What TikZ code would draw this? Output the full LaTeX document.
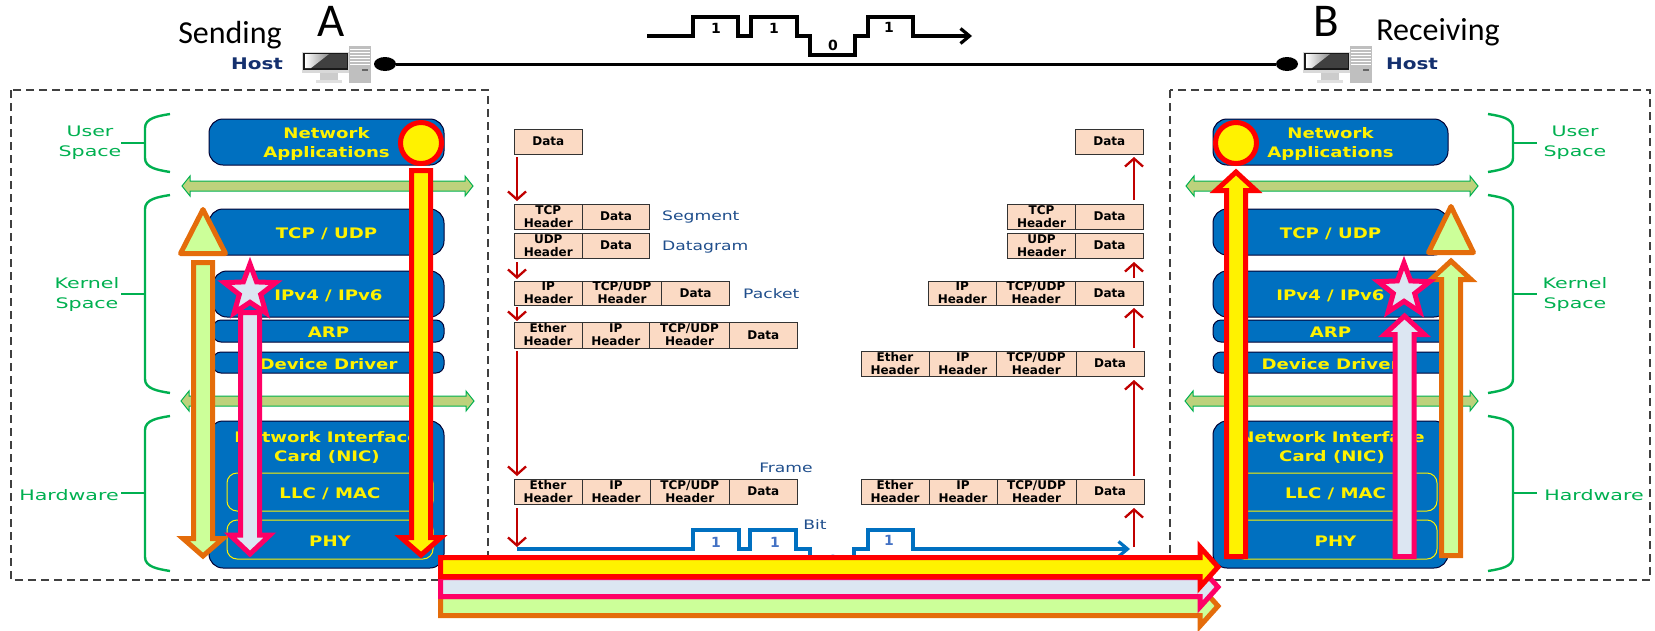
\documentclass[tikz,border=0pt]{standalone}
\usepackage{fontspec}
\usetikzlibrary{arrows.meta,shapes.geometric}
\setmainfont{DejaVu Sans}
\newfontfamily\widebf[FakeStretch=1.25]{DejaVu Sans}
\newfontfamily\widerg[FakeStretch=1.32]{DejaVu Sans}
\newfontfamily\widergg[FakeStretch=1.42]{DejaVu Sans}
\newfontfamily\titlef{Carlito}
\definecolor{nicblue}{HTML}{0070C0}
\definecolor{peach}{HTML}{FBDAC4}
\definecolor{gfill}{HTML}{BDD27C}
\definecolor{gline}{HTML}{00B050}
\definecolor{darkred}{HTML}{C00000}
\definecolor{navy}{HTML}{14306E}
\definecolor{pduname}{HTML}{1F4E8C}
\definecolor{orangeA}{HTML}{E46C0A}
\definecolor{limeA}{HTML}{CCFF99}
\definecolor{pinkA}{HTML}{FF0066}
\definecolor{paleA}{HTML}{DCE6F2}
\definecolor{bitnum}{HTML}{4472C4}
\tikzset{
  x=1pt,y=-1pt,
  layerbox/.style={draw=black!80!blue,line width=1pt,fill=nicblue,inner sep=0pt},
  layertxt/.style={text=yellow,align=center,inner sep=0pt,
    font=\widebf\bfseries\fontsize{14.5}{19}\selectfont},
  sublayer/.style={draw=yellow,line width=1pt,inner sep=0pt},
  celltxt/.style={draw=black!80,line width=1pt,fill=peach,inner sep=0pt,align=center,
    font=\bfseries\fontsize{12}{13}\selectfont},
  zone/.style={draw=black!75,line width=1.2pt,dash pattern=on 8pt off 5pt},
  gtext/.style={text=gline,align=center,inner sep=0pt,font=\widergg\fontsize{14.5}{20}\selectfont},
  bracel/.style={draw=gline,line width=2.4pt},
  gbar/.style={draw=gline,line width=1pt,fill=gfill},
  pdu/.style={text=pduname,inner sep=0pt,font=\widerg\fontsize{13}{15}\selectfont},
  flow/.style={draw=darkred,line width=2.3pt,-{Straight Barb[length=8pt,width=18pt]}},
  sig/.style={line width=3.2pt,line join=miter,-{Straight Barb[length=9pt,width=15pt]}},
  bitn/.style={inner sep=0pt,font=\bfseries\fontsize{14}{16}\selectfont},
  hostt/.style={text=navy,inner sep=0pt,font=\widebf\bfseries\fontsize{16}{18}\selectfont},
  titl/.style={inner sep=0pt,font=\titlef\fontsize{32}{34}\selectfont},
  bigl/.style={inner sep=0pt,font=\titlef\fontsize{47}{48}\selectfont},
  redA/.style={draw=red,fill=yellow,line width=5pt},
  orA/.style={draw=orangeA,fill=limeA,line width=5pt},
  piA/.style={draw=pinkA,fill=paleA,line width=5pt},
  stara/.style={star,star points=5,star point ratio=2.4,minimum size=54pt,inner sep=0pt,draw=pinkA,fill=paleA,line width=5pt},
}
% name x1 y1 x2 y2 radius text
\newcommand{\layerb}[7]{\node[layerbox,rounded corners=#6,minimum width={(#4-#2)*1pt},minimum height={(#5-#3)*1pt}] (#1) at ({(#2+#4)/2},{(#3+#5)/2}) {};
  \node[layertxt,yshift=-1.5pt] (#1t) at (#1.center) {#7};}
\newcommand{\subl}[6]{\node[sublayer,rounded corners=10pt,minimum width={(#4-#2)*1pt},minimum height={(#5-#3)*1pt}] (#1) at ({(#2+#4)/2},{(#3+#5)/2}) {};
  \node[layertxt,yshift=-1.5pt] (#1t) at (#1.center) {#6};}
\newcommand{\tcell}[6]{\node[celltxt,minimum width={(#4-#2)*1pt},minimum height={(#5-#3)*1pt}] (#1) at ({(#2+#4)/2},{(#3+#5)/2}) {#6};}
% vertical block arrow: cx, tail y, head base y, tip y, style
\newcommand{\vblock}[5]{\draw[#5] ({#1-9.5},#2) -- ({#1-9.5},#3) -- ({#1-20},#3) -- (#1,#4) -- ({#1+20},#3) -- ({#1+9.5},#3) -- ({#1+9.5},#2) -- cycle;}
% horizontal block arrow: cy, style
\newcommand{\hblock}[2]{\draw[#2] (440.5,{#1-9.5}) -- (1200,{#1-9.5}) -- (1200,{#1-20}) -- (1218,#1) -- (1200,{#1+20}) -- (1200,{#1+9.5}) -- (440.5,{#1+9.5}) -- cycle;}
\newcommand{\gdouble}[3]{\draw[gbar] (#1,#3) -- ({#1+8},{#3-10}) -- ({#1+8},{#3-5}) -- ({#2-8},{#3-5}) -- ({#2-8},{#3-10}) -- (#2,#3) -- ({#2-8},{#3+10}) -- ({#2-8},{#3+5}) -- ({#1+8},{#3+5}) -- ({#1+8},{#3+10}) -- cycle;}
\newcommand{\bracel}[3]{\draw[bracel] (170,#1) .. controls (158,{#1+2}) and (145,{#1+4}) .. (145,{#1+14}) -- (145,{#3-14}) .. controls (145,{#3-4}) and (158,{#3-2}) .. (170,#3);
  \draw[bracel] (145,#2) -- (121,#2);}
\newcommand{\bracer}[3]{\draw[bracel] (1488,#1) .. controls (1500,{#1+2}) and (1513,{#1+4}) .. (1513,{#1+14}) -- (1513,{#3-14}) .. controls (1513,{#3-4}) and (1500,{#3-2}) .. (1488,#3);
  \draw[bracel] (1513,#2) -- (1537,#2);}
\newcommand{\flowarrow}[4]{\coordinate (#1s) at (#2,#3); \coordinate (#1e) at (#2,#4); \draw[flow] (#1s) -- (#1e);}
\newcommand{\hostpc}[1]{\begin{scope}[shift={(#1,0)}]
  \fill[black!20] (18,73) rectangle (36,80);
  \fill[black!12] (14,80) rectangle (40,83);
  \fill[black!15] (0,52) rectangle (47,73);
  \fill[black!90] (1,53) rectangle (46,70);
  \fill[black!75] (3,54) rectangle (45,68);
  \shade[left color=white,right color=black!45] (3,54) -- (27,54) -- (9,68) -- (3,68) -- cycle;
  \fill[black!25] (47,46) rectangle (69,83);
  \foreach \yy in {49,52,55,58,61,64}{\draw[white,line width=.7pt] (48,\yy) -- (68,\yy);}
  \fill[black!60] (60,69) rectangle (66,70.5);
\end{scope}}
\begin{document}
\begin{tikzpicture}
\useasboundingbox (0,0) rectangle (1655,630);
% zones
\draw[zone] (11,90) rectangle (488,580);
\draw[zone] (1170,90) rectangle (1650,580);
% host line
\node[ellipse,fill=black,inner sep=0pt,minimum width=22pt,minimum height=14pt] (dotA) at (385,64) {};
\node[ellipse,fill=black,inner sep=0pt,minimum width=22pt,minimum height=14pt] (dotB) at (1287,64) {};
\draw[line width=3pt] (dotA) -- (dotB);
\hostpc{302}
\hostpc{1303}
\node[titl] (sendT) at (230,35) {Sending};
\node[bigl] (hA) at (331,21) {A};
\node[hostt] (hostA) at (257,64) {Host};
\node[bigl] (hB) at (1326,21) {B};
\node[titl] (recvT) at (1438,32) {Receiving};
\node[hostt] (hostB) at (1412,64) {Host};
% top signal
\coordinate (ts) at (647,36); \coordinate (te) at (972,36);
\draw[sig] (ts) -- (693,36) -- (693,17) -- (738,17) -- (738,36) -- (751,36) -- (751,17) -- (797,17) -- (797,36) -- (810,36) -- (810,55) -- (855,55) -- (855,36) -- (868,36) -- (868,17) -- (913,17) -- (913,36) -- (te);
\node[bitn] (t1) at (716,28) {1};
\node[bitn] (t2) at (774,28) {1};
\node[bitn] (t3) at (833,45) {0};
\node[bitn] (t4) at (889,27) {1};
% braces and labels, left
\bracel{114}{143}{172}
\bracel{195}{294}{393}
\bracel{416}{493}{571}
\node[gtext] (lu) at (90,143) {User\\Space};
\node[gtext] (lk) at (87,294.5) {Kernel\\Space};
\node[gtext] (lh) at (69,495) {Hardware};
% braces and labels, right
\bracer{114}{143}{172}
\bracer{195}{294}{393}
\bracer{416}{493}{571}
\node[gtext] (ru) at (1575,143) {User\\Space};
\node[gtext] (rk) at (1575,294.5) {Kernel\\Space};
\node[gtext] (rh) at (1594,495) {Hardware};
% boundary bars
\gdouble{182}{473}{186}
\gdouble{181}{474}{401}
\gdouble{1186}{1478}{186}
\gdouble{1185}{1478}{401}
% left stack
\layerb{la}{209}{119}{444}{165}{14pt}{Network\\Applications}
\layerb{lt}{209}{209}{444}{255}{14pt}{TCP / UDP}
\layerb{li}{213}{271}{444}{317}{14pt}{IPv4 / IPv6}
\layerb{lr}{213}{320}{444}{342}{8pt}{ARP}
\layerb{ld}{213}{352}{444}{373}{8pt}{Device Driver}
\layerb{ln}{209}{421}{444}{568}{14pt}{}
\node[layertxt] (lnt) at (327,447) {Network Interface\\Card (NIC)};
\subl{ll}{227}{473}{433}{511}{LLC / MAC}
\subl{lp}{227}{520}{433}{559}{PHY}
% right stack
\layerb{ra}{1213}{119}{1448}{165}{14pt}{Network\\Applications}
\layerb{rt}{1213}{209}{1448}{255}{14pt}{TCP / UDP}
\layerb{ri}{1213}{271}{1448}{317}{14pt}{IPv4 / IPv6}
\layerb{rr}{1213}{320}{1448}{342}{8pt}{ARP}
\layerb{rd}{1213}{352}{1448}{373}{8pt}{Device Driver}
\layerb{rn}{1213}{421}{1448}{568}{14pt}{}
\node[layertxt] (rnt) at (1332,447) {Network Interface\\Card (NIC)};
\subl{rl}{1234}{473}{1437}{511}{LLC / MAC}
\subl{rp}{1234}{520}{1437}{559}{PHY}
% PDUs left
\tcell{a1}{514}{129}{582.5}{154}{Data}
\tcell{b1}{514}{204}{582.5}{229}{TCP\\Header}
\tcell{b2}{582.5}{204}{649.5}{229}{Data}
\tcell{c1}{514}{233}{582.5}{258}{UDP\\Header}
\tcell{c2}{582.5}{233}{649.5}{258}{Data}
\tcell{d1}{514}{281}{582.5}{305}{IP\\Header}
\tcell{d2}{582.5}{281}{661.5}{305}{TCP/UDP\\Header}
\tcell{d3}{661.5}{281}{729.5}{305}{Data}
\tcell{e1}{514}{322}{582}{348}{Ether\\Header}
\tcell{e2}{582}{322}{649.5}{348}{IP\\Header}
\tcell{e3}{649.5}{322}{729.5}{348}{TCP/UDP\\Header}
\tcell{e4}{729.5}{322}{797}{348}{Data}
\tcell{f1}{514}{479}{582}{504}{Ether\\Header}
\tcell{f2}{582}{479}{650}{504}{IP\\Header}
\tcell{f3}{650}{479}{729.5}{504}{TCP/UDP\\Header}
\tcell{f4}{729.5}{479}{797}{504}{Data}
% PDUs right
\tcell{ra1}{1075}{129}{1143.5}{154}{Data}
\tcell{rb1}{1007.5}{204}{1075.5}{229}{TCP\\Header}
\tcell{rb2}{1075.5}{204}{1143.5}{229}{Data}
\tcell{rc1}{1007.5}{233}{1075.5}{258}{UDP\\Header}
\tcell{rc2}{1075.5}{233}{1143.5}{258}{Data}
\tcell{rd1}{928}{281}{996.5}{305}{IP\\Header}
\tcell{rd2}{996.5}{281}{1075.5}{305}{TCP/UDP\\Header}
\tcell{rd3}{1075.5}{281}{1143.5}{305}{Data}
\tcell{re1}{861}{351}{929}{376}{Ether\\Header}
\tcell{re2}{929}{351}{996.5}{376}{IP\\Header}
\tcell{re3}{996.5}{351}{1076}{376}{TCP/UDP\\Header}
\tcell{re4}{1076}{351}{1144}{376}{Data}
\tcell{rf1}{861}{479}{929}{504}{Ether\\Header}
\tcell{rf2}{929}{479}{997}{504}{IP\\Header}
\tcell{rf3}{997}{479}{1076}{504}{TCP/UDP\\Header}
\tcell{rf4}{1076}{479}{1144}{504}{Data}
% PDU names
\node[pdu,anchor=west] (nseg) at (662,217) {Segment};
\node[pdu,anchor=west] (ndat) at (662,247) {Datagram};
\node[pdu,anchor=west] (npac) at (743,294) {Packet};
\node[pdu] (nfra) at (786,468) {Frame};
\node[pdu] (nbit) at (815,525) {Bit};
% red flow arrows
\flowarrow{fa}{517}{157}{201}
\flowarrow{fb}{517}{262}{279}
\flowarrow{fc}{517}{307}{321}
\flowarrow{fd}{517}{351}{476}
\flowarrow{ff}{517}{508}{547}
\flowarrow{ga}{1134}{200}{157}
\flowarrow{gb}{1134}{278}{262}
\flowarrow{gc}{1134}{348}{308}
\flowarrow{gd}{1134}{476}{380}
\flowarrow{gf}{1134}{547}{508}
% bit signal
\coordinate (bs) at (517,549); \coordinate (be) at (1130,549);
\draw[sig,draw=nicblue] (bs) -- (693,549) -- (693,530) -- (739,530) -- (739,549) -- (750,549) -- (750,530) -- (796,530) -- (796,549) -- (810,549) -- (810,568) -- (854,568) -- (854,549) -- (868,549) -- (868,530) -- (913,530) -- (913,549) -- (be);
\node[bitn,text=bitnum] (b1) at (716,542) {1};
\node[bitn,text=bitnum] (b2) at (775,542) {1};
\node[bitn,text=bitnum] (b3) at (833,560) {0};
\node[bitn,text=bitnum] (b4) at (889,540) {1};
% left flow block arrows
\draw[orA,line join=round] (203,209.5) -- (180.5,253.5) -- (225.5,253.5) -- cycle;
\vblock{203}{262.5}{538.5}{556}{orA}
\node[stara] (sl) at (250,291) {};
\vblock{250}{312.5}{535}{554}{piA}
\vblock{421}{170.5}{537.5}{555}{redA}
\node[circle,draw=red,fill=yellow,line width=5pt,minimum size=41pt,inner sep=0pt] (cl) at (421,143) {};
% right flow block arrows
\vblock{1236}{556.5}{190.5}{172}{redA}
\node[circle,draw=red,fill=yellow,line width=5pt,minimum size=41pt,inner sep=0pt] (cr) at (1236,143) {};
\draw[orA,line join=round] (1451,206.5) -- (1428.5,252.5) -- (1473.5,252.5) -- cycle;
\vblock{1451}{555.5}{279.5}{261}{orA}
\node[stara] (sr) at (1404,290) {};
\vblock{1404.5}{556.5}{334.5}{316}{piA}
% wire block arrows
\hblock{606}{orA}
\hblock{587}{piA}
\hblock{567}{redA}
\end{tikzpicture}
\end{document}
